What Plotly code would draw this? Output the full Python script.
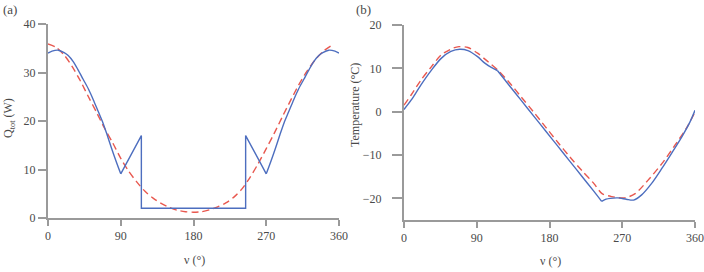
import plotly.graph_objects as go

# ---- Panel (a): Q_tot vs true anomaly ----
qa_blue_v = [0, 5, 12.7, 20, 25, 31, 37, 43.5, 50, 56, 62, 68, 73, 78.6, 84, 90,
             115.5, 115.5, 244.5, 244.5,
             270, 276, 281.4, 287, 292, 298, 304, 310, 316.5, 323, 329, 335, 340, 347.3, 355, 360]
qa_blue_q = [34.0, 34.4, 34.6, 34.1, 33.5, 32.3, 30.6, 28.6, 26.6, 24.4, 22.0, 19.6, 17.2, 14.4, 11.8, 9.1,
             17.0, 2.0, 2.0, 17.0,
             9.1, 11.8, 14.4, 17.2, 19.6, 22.0, 24.4, 26.6, 28.6, 30.6, 32.3, 33.5, 34.1, 34.6, 34.4, 34.0]

qa_red_v = [0, 10, 20, 30, 40, 50, 60, 70, 80, 90, 100, 110, 120, 130, 140, 150, 160, 170, 180,
            190, 200, 210, 220, 230, 240, 250, 260, 270, 280, 290, 300, 310, 320, 330, 340, 350]
qa_red_q = [35.9, 35.2, 33.6, 31.2, 28.3, 25.0, 21.8, 18.5, 15.5, 12.3, 9.6, 7.4, 5.5, 4.1, 3.0, 2.2, 1.6, 1.3, 1.2,
            1.3, 1.7, 2.3, 3.1, 4.3, 6.0, 8.4, 11.2, 14.3, 17.5, 20.9, 24.2, 27.4, 30.2, 32.5, 34.3, 35.5]

# ---- Panel (b): Temperature vs true anomaly ----
tb_blue_v = [0, 9, 21, 34, 46, 58, 69, 79, 91, 100, 108, 115.5, 122, 130, 145, 160, 175, 190, 205, 220, 235,
             244.5, 250, 255, 265, 275, 284, 294, 306.6, 319, 331, 343.7, 354, 360]
tb_blue_t = [0.5, 2.7, 6.2, 9.6, 12.3, 13.9, 14.4, 14.1, 12.7, 11.2, 10.2, 9.5, 8.0, 6.1, 2.6, -0.9, -4.4, -7.9, -11.4, -14.9, -18.4,
             -20.7, -20.2, -20.0, -19.9, -20.2, -20.4, -19.2, -16.5, -13.1, -9.6, -5.8, -2.3, 0.3]

tb_red_v = [0, 9, 21, 34, 46, 60, 68, 79, 91, 104, 116, 130, 145, 160, 175, 190, 205, 220, 235, 245,
            257, 273, 286, 302, 319, 335, 350, 360]
tb_red_t = [1.5, 3.9, 7.3, 10.4, 13.1, 14.6, 15.0, 14.8, 13.5, 11.5, 9.6, 6.8, 3.4, 0.0, -3.5, -7.0, -10.4, -13.6, -16.6, -18.9,
            -19.6, -19.9, -18.9, -15.8, -12.0, -7.8, -3.6, -0.1]

x_ticks = [0, 90, 180, 270, 360]
ya_ticks = [0, 10, 20, 30, 40]
yb_ticks = [-20, -10, 0, 10, 20]

BLUE = "#4d6ebf"
RED = "#e8584f"
AX = "#9a9a9a"
TXT = "#4a4a4a"
FONT = "Liberation Serif"

fig = go.Figure()

def add(xs, ys, i0, i1, color, ax, shape, dash=None):
    fig.add_trace(go.Scatter(x=xs[i0:i1], y=ys[i0:i1], mode="lines",
                             line=dict(color=color, width=1.4, dash=dash, shape=shape,
                                       **({"smoothing": 0.8} if shape == "spline" else {})),
                             xaxis="x" + ax, yaxis="y" + ax, showlegend=False))

n = len(qa_red_v)
add(qa_red_v, qa_red_q, 0, n, RED, "", "spline", "7px,4px")
add(qa_blue_v, qa_blue_q, 0, 16, BLUE, "", "spline")
add(qa_blue_v, qa_blue_q, 15, 21, BLUE, "", "linear")
add(qa_blue_v, qa_blue_q, 20, len(qa_blue_v), BLUE, "", "spline")

add(tb_red_v, tb_red_t, 0, len(tb_red_v), RED, "2", "spline", "7px,4px")
k1 = tb_blue_v.index(115.5)
k2 = tb_blue_v.index(244.5)
add(tb_blue_v, tb_blue_t, 0, k1 + 1, BLUE, "2", "spline")
add(tb_blue_v, tb_blue_t, k1, k2 + 1, BLUE, "2", "spline")
add(tb_blue_v, tb_blue_t, k2, len(tb_blue_v), BLUE, "2", "spline")

W, H = 704, 272
def fx(px): return px / W
def fy(py): return 1 - py / H

common = dict(showline=True, linecolor=AX, linewidth=2, showgrid=False, zeroline=False,
              ticks="outside", tickcolor=AX, tickwidth=1.5,
              tickfont=dict(family=FONT, size=12, color=TXT), automargin=False)

fig.update_layout(
    width=W, height=H, margin=dict(l=0, r=0, t=0, b=0),
    paper_bgcolor="white", plot_bgcolor="white",
    xaxis=dict(domain=[fx(48), fx(339)], range=[0, 360], tickvals=x_ticks, anchor="y", ticklen=6, **common),
    yaxis=dict(domain=[fy(218), fy(24)], range=[0, 40], tickvals=ya_ticks, anchor="x", ticklen=8, **common),
    xaxis2=dict(domain=[fx(404), fx(695)], range=[0, 360], tickvals=x_ticks, anchor="y2", ticklen=6, **common),
    yaxis2=dict(domain=[fy(220), fy(25)], range=[-25, 20], tickvals=yb_ticks, anchor="x2", ticklen=10,
                ticklabelstandoff=8, **common),
)

ann = []
def A(text, x, y, angle=0, size=12):
    ann.append(dict(text=text, x=fx(x), y=fy(y), xref="paper", yref="paper", showarrow=False,
                    textangle=angle, xanchor="center", yanchor="middle",
                    font=dict(family=FONT, size=size, color=TXT)))
A("(a)", 10, 10, size=13)
A("(b)", 363, 10, size=13)
A("ν (°)", 194, 260)
A("ν (°)", 550, 261)
A("Q<sub>tot</sub> (W)", 9, 118, angle=-90)
A("Temperature (°C)", 355, 105, angle=-90)
fig.update_layout(annotations=ann)

fig.write_html("out.html")
